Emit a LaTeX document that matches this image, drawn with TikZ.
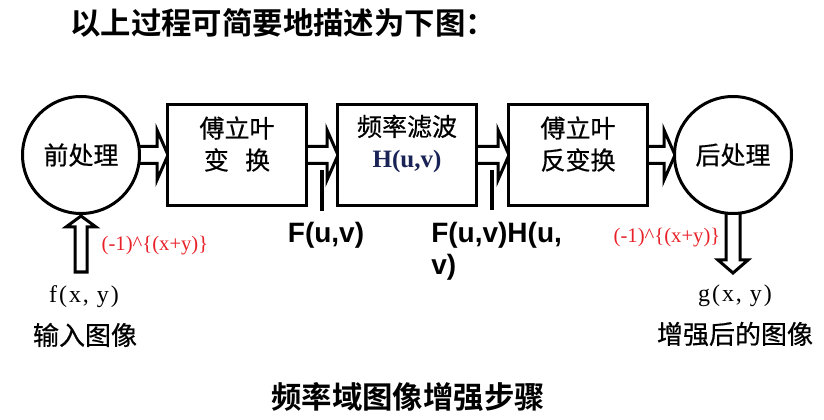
\documentclass[tikz,border=0pt]{standalone}
\usepackage{fontspec}
\usetikzlibrary{calc,backgrounds}
\newfontfamily\cjk[FakeBold=0.6]{Noto Sans CJK SC}
\newfontfamily\cjkbold{Noto Sans CJK SC Bold}
\newfontfamily\arialf{Liberation Sans}
\newfontfamily\timesf{Liberation Serif}
\newfontfamily\simlatin[LetterSpace=8]{Liberation Serif}
\definecolor{labelred}{RGB}{232,32,40}
\definecolor{navy}{RGB}{25,35,85}

\tikzset{
  circ/.style={circle, draw, line width=2.25pt, minimum size=87.75pt, inner sep=0pt, fill=white,
    font=\cjk\fontsize{18.75}{22}\selectfont},
  box/.style={rectangle, draw, line width=2.25pt, minimum width=104.25pt, minimum height=75.75pt, fill=white},
  boxtext/.style={align=center, inner sep=0pt, font=\cjk\fontsize{18.75}{24}\selectfont},
  blk/.style={draw, line width=2.25pt, fill=white, line join=miter},
  pointer/.style={line width=3pt},
  flabel/.style={inner sep=0pt, align=left, font=\arialf\bfseries\fontsize{21}{24}\selectfont},
  redlabel/.style={inner sep=0pt, text=labelred, font=\timesf\fontsize{15.5}{18}\selectfont},
  ttlabel/.style={inner sep=0pt, font=\simlatin\fontsize{18}{20}\selectfont},
  cjklabel/.style={inner sep=0pt, font=\cjk\fontsize{19.5}{22}\selectfont},
  title/.style={inner sep=0pt, font=\cjkbold\fontsize{22.8}{26}\selectfont}
}

% block arrow pointing right, from node #1 to node #2
\newcommand{\blockright}[2]{%
  \draw[blk] ($(#1.east)+(-4,-8.5)$) -- ($(#2.west)+(-9,-8.5)$) -- ($(#2.west)+(-9,-25)$)
    -- ($(#2.west)+(2,0)$) -- ($(#2.west)+(-9,25)$) -- ($(#2.west)+(-9,8.5)$)
    -- ($(#1.east)+(-4,8.5)$) -- cycle;}

\begin{document}
\begin{tikzpicture}[x=0.75pt, y=-0.75pt]
            \useasboundingbox (0,0) rectangle (824,420);

            % Titles
            \node[title] (top) at (283,23) {以上过程可简要地描述为下图：};
            \node[title] (bottom) at (408,397) {频率域图像增强步骤};

            % Processing chain
            \node[circ] (pre) at (81,155) {前处理};
            \node[box] (ft) at (237,155) {};
            \node[box] (filt) at (407,155) {};
            \node[box] (ift) at (578,155) {};
            \node[circ] (post) at (733,155) {后处理};

            % Box texts
            \node[boxtext] (fttext) at ($(ft)+(0,-11)$) {傅立叶\\变\hspace{0.65em}换};
            \node[boxtext] (filttext) at ($(filt)+(0,-11)$) {频率滤波\\{\timesf\bfseries\color{navy}H(u,v)}};
            \node[boxtext] (ifttext) at ($(ift)+(0,-11)$) {傅立叶\\反变换};

            % Block arrows
            \begin{scope}[on background layer]
                \blockright{pre}{ft}
                \blockright{ft}{filt}
                \blockright{filt}{ift}
                \blockright{ift}{post}

                % Input and output arrows
                \coordinate (fin) at (81,272);
                \draw[blk] ($(fin)+(-6,0)$) -- ($(pre.south)+(-6,12)$) -- ($(pre.south)+(-15,12)$) -- ($(pre.south)+(0,1)$)
                    -- ($(pre.south)+(15,12)$) -- ($(pre.south)+(6,12)$) -- ($(fin)+(6,0)$) -- cycle;
                \coordinate (gout) at (733,273);
                \draw[blk] ($(post.south)+(-7,-4)$) -- ($(gout)+(-7,-13)$) -- ($(gout)+(-15,-13)$) -- (gout)
                    -- ($(gout)+(15,-13)$) -- ($(gout)+(7,-13)$) -- ($(post.south)+(7,-4)$) -- cycle;
            \end{scope}

            % Spectrum labels
            \coordinate (m1) at (322,170);
            \draw[pointer] (m1) -- ++(0,41);
            \node[flabel] (fl) at (326,235) {F(u,v)};
            \coordinate (m2) at (492,170);
            \draw[pointer] (m2) -- ++(0,40);
            \node[flabel, anchor=north west] (fhl) at (431,222) {F(u,v)H(u,\\v)};

            % Centering factors
            \node[redlabel] (rin) at (155,246) {(-1)\textasciicircum\{(x+y)\}};
            \node[redlabel] (rout) at (667,238) {(-1)\textasciicircum\{(x+y)\}};

            % Input and output images
            \node[ttlabel] (fx) at (84,297) {f(x, y)};
            \node[cjklabel] (inimg) at (85,335) {输入图像};
            \node[ttlabel] (gx) at (735,296) {g(x, y)};
            \node[cjklabel] (outimg) at (735,334) {增强后的图像};
\end{tikzpicture}
\end{document}
